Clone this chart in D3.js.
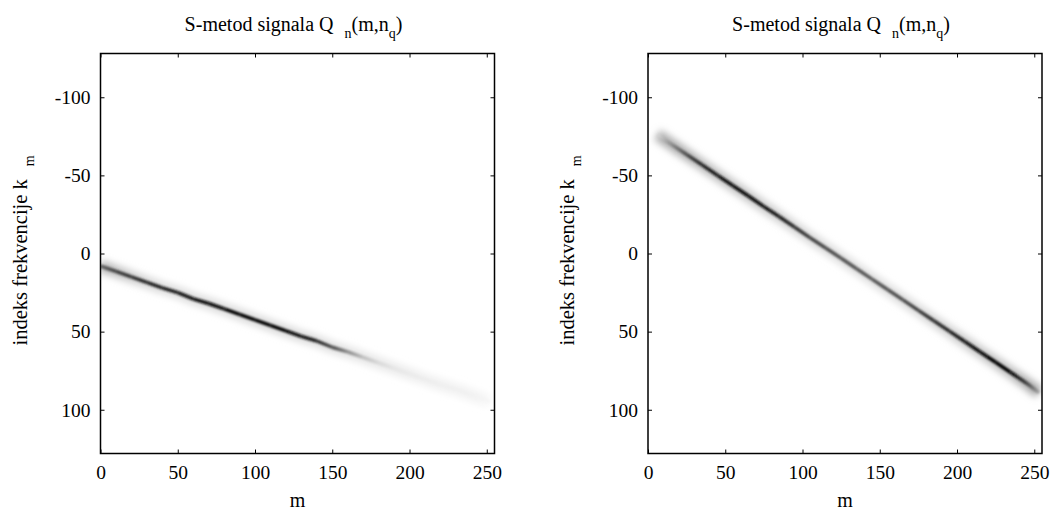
<!DOCTYPE html>
<html>
<head>
<meta charset="utf-8">
<script src="https://cdn.jsdelivr.net/npm/d3@7"></script>
<style>
  body { margin: 0; background: #fff; }
  svg text { font-family: "Liberation Serif", Tinos, "Times New Roman", Times, serif; fill: #000; }
</style>
</head>
<body>
<div id="chart"></div>
<script>
// axis ticks
const mTicks = [0, 50, 100, 150, 200, 250];
const kTicks = [-100, -50, 0, 50, 100];

// ridge of the left S-method image: m, k, ridge intensity, side-lobe intensity
const leftM = [0, 10, 20, 30, 40, 50, 60, 70, 80, 90, 100, 110, 120, 130, 140, 150, 160, 170, 180, 190, 200, 210, 220, 230, 240, 252];
const leftK = [8, 11.5, 15, 18.5, 22, 25, 29, 32, 35.5, 39, 42.5, 46, 49.5, 53, 56, 60, 63, 66.5, 70, 73.5, 77, 80.5, 84, 87, 90.5, 95];
const leftI = [0.6, 0.75, 0.8, 0.85, 0.88, 0.9, 0.93, 0.95, 0.97, 1, 1, 1, 0.98, 0.93, 0.85, 0.7, 0.45, 0.25, 0.15, 0.1, 0.08, 0.07, 0.06, 0.06, 0.05, 0.03];
const leftS = [0.3, 0.25, 0.2, 0.16, 0.14, 0.14, 0.14, 0.14, 0.14, 0.15, 0.15, 0.15, 0.15, 0.14, 0.13, 0.12, 0.11, 0.1, 0.09, 0.08, 0.07, 0.06, 0.06, 0.05, 0.05, 0.03];

// ridge of the right S-method image
const rightM = [6, 15, 25, 35, 45, 55, 65, 75, 85, 95, 105, 115, 125, 135, 145, 155, 165, 175, 185, 195, 205, 215, 225, 235, 245, 253];
const rightK = [-76, -70, -63.4, -56.7, -50, -43.4, -36.8, -30, -23.5, -16.8, -10, -3.5, 3, 9.8, 16.4, 23, 29.7, 36.4, 43, 49.7, 56.3, 63, 69.6, 76.3, 83, 89];
const rightI = [0.15, 0.45, 0.7, 0.85, 0.92, 0.95, 0.97, 0.95, 0.88, 0.8, 0.75, 0.7, 0.67, 0.65, 0.65, 0.67, 0.7, 0.75, 0.8, 0.85, 0.9, 0.95, 1, 0.97, 0.75, 0.35];
const rightS = [0.3, 0.32, 0.3, 0.27, 0.25, 0.23, 0.22, 0.2, 0.18, 0.16, 0.15, 0.14, 0.13, 0.13, 0.13, 0.13, 0.14, 0.15, 0.16, 0.18, 0.2, 0.22, 0.24, 0.26, 0.32, 0.35];

const W = 1060, H = 514;
const plotTop = 53.5, plotBottom = 453.5;
const fontSize = 19.5;

const svg = d3.select('#chart').append('svg')
  .attr('width', W)
  .attr('height', H);

const defs = svg.append('defs');
defs.append('filter').attr('id', 'blurWide')
  .attr('filterUnits', 'userSpaceOnUse')
  .attr('x', 0).attr('y', 0).attr('width', W).attr('height', H)
  .append('feGaussianBlur').attr('stdDeviation', 3.5);
defs.append('filter').attr('id', 'blurCore')
  .attr('filterUnits', 'userSpaceOnUse')
  .attr('x', 0).attr('y', 0).attr('width', W).attr('height', H)
  .append('feGaussianBlur').attr('stdDeviation', 0.8);

const gray = d3.scaleLinear().domain([0, 1]).range(['#ffffff', '#000000']);

function panel(id, left, right, M, K, I, S) {
  const x = d3.scaleLinear().domain([0, 255]).range([left, right]);
  const y = d3.scaleLinear().domain([-128, 128]).range([plotTop, plotBottom]);
  const g = svg.append('g').attr('class', 'panel ' + id);

  defs.append('clipPath').attr('id', 'clip-' + id)
    .append('rect')
    .attr('x', left).attr('y', plotTop)
    .attr('width', right - left).attr('height', plotBottom - plotTop);

  /* ridge of the time-frequency distribution */
  const pts = M.map((m, i) => ({ m, k: K[i], v: I[i], s: S[i] }));
  const segs = d3.pairs(pts);

  // one gradient per segment so intensity changes smoothly along the ridge
  ['core', 'halo'].forEach(kind => {
    defs.selectAll(null)
      .data(segs)
      .enter().append('linearGradient')
      .attr('id', (d, i) => `${id}-${kind}-${i}`)
      .attr('gradientUnits', 'userSpaceOnUse')
      .attr('x1', d => x(d[0].m)).attr('y1', d => y(d[0].k))
      .attr('x2', d => x(d[1].m)).attr('y2', d => y(d[1].k))
      .selectAll('stop')
      .data(d => kind === 'core' ? [d[0].v, d[1].v] : [d[0].s, d[1].s])
      .enter().append('stop')
      .attr('offset', (d, i) => i)
      .attr('stop-color', d => gray(d));
  });

  const img = g.append('g').attr('clip-path', `url(#clip-${id})`);
  img.append('g')
    .attr('filter', 'url(#blurWide)')
    .selectAll('line')
    .data(segs)
    .enter().append('line')
    .attr('x1', d => x(d[0].m)).attr('y1', d => y(d[0].k))
    .attr('x2', d => x(d[1].m)).attr('y2', d => y(d[1].k))
    .style('stroke', (d, i) => `url(#${id}-halo-${i})`)
    .style('stroke-width', 12);
  img.append('g')
    .attr('filter', 'url(#blurCore)')
    .selectAll('line')
    .data(segs)
    .enter().append('line')
    .attr('x1', d => x(d[0].m)).attr('y1', d => y(d[0].k))
    .attr('x2', d => x(d[1].m)).attr('y2', d => y(d[1].k))
    .style('stroke', (d, i) => `url(#${id}-core-${i})`)
    .style('stroke-width', 3.5);

  /* axes, ticks pointing inward */
  const xAxis = d3.axisBottom(x).tickValues(mTicks).tickSizeInner(-4).tickSizeOuter(0).tickPadding(12)
    .tickFormat(d => String(d));
  const xTop = d3.axisTop(x).tickValues(mTicks).tickSizeInner(-4).tickSizeOuter(0).tickFormat('');
  const yAxis = d3.axisLeft(y).tickValues(kTicks).tickSizeInner(-4).tickSizeOuter(0).tickPadding(10)
    .tickFormat(d => String(d));
  const yRight = d3.axisRight(y).tickValues(kTicks).tickSizeInner(-4).tickSizeOuter(0).tickFormat('');

  g.append('g').attr('transform', `translate(0,${plotBottom})`).call(xAxis);
  g.append('g').attr('transform', `translate(0,${plotTop})`).call(xTop);
  g.append('g').attr('transform', `translate(${left},0)`).call(yAxis);
  g.append('g').attr('transform', `translate(${right},0)`).call(yRight);
  g.selectAll('.domain').remove();
  g.selectAll('.tick line').style('stroke', '#000');
  g.selectAll('.tick text').style('font-size', fontSize + 'px');

  g.append('rect')
    .attr('x', left).attr('y', plotTop)
    .attr('width', right - left).attr('height', plotBottom - plotTop)
    .style('fill', 'none')
    .style('stroke', '#000')
    .style('stroke-width', 1.5);

  /* title with subscripts */
  const cx = (left + right) / 2;
  const title = g.append('text')
    .attr('x', cx - 4)
    .attr('y', 31)
    .style('text-anchor', 'middle')
    .style('font-size', '20px');
  title.append('tspan').text('S-metod signala Q');
  title.append('tspan').attr('dx', 11).attr('dy', 7).style('font-size', '14px').text('n');
  title.append('tspan').attr('dy', -7).text('(m,n');
  title.append('tspan').attr('dy', 7).style('font-size', '14px').text('q');
  title.append('tspan').attr('dy', -7).text(')');

  /* axis labels */
  g.append('text')
    .attr('x', cx)
    .attr('y', 507)
    .style('text-anchor', 'middle')
    .style('font-size', '20px')
    .text('m');

  const yl = g.append('text')
    .attr('transform', `translate(${left - 74},${y(-2)}) rotate(-90)`)
    .style('text-anchor', 'middle')
    .style('font-size', '20.5px');
  yl.append('tspan').text('indeks frekvencije k');
  yl.append('tspan').attr('dx', 13).attr('dy', 7).style('font-size', '14px').text('m');
}

panel('left', 100.5, 494.5, leftM, leftK, leftI, leftS);
panel('right', 648, 1042, rightM, rightK, rightI, rightS);
</script>
</body>
</html>
